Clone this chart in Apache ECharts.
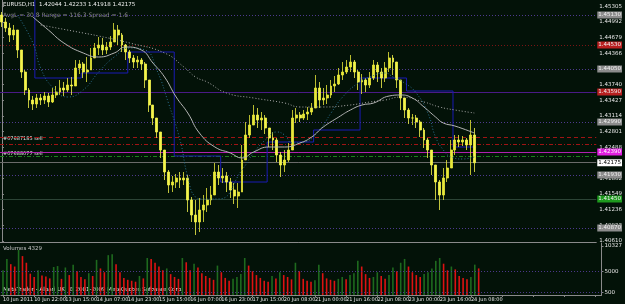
<!DOCTYPE html>
<html>
<head>
<meta charset="utf-8">
<script src="https://cdn.jsdelivr.net/npm/echarts@6/dist/echarts.min.js"></script>
<style>
html, body { margin: 0; padding: 0; background: #031208; }
#chart { width: 625px; height: 304px; }
</style>
</head>
<body>
<div id="chart"></div>
<script>
// EURUSD, 10 Jun - 24 Jun 2011 (2-hour bars)
var barOpen = [1.4513,1.4499,1.4487,1.4473,1.4483,1.4443,1.4399,1.4363,1.4343,1.4335,
  1.4347,1.4343,1.4351,1.4339,1.4353,1.4359,1.4367,1.4363,1.4373,1.4371,
  1.4407,1.4415,1.4399,1.4403,1.4427,1.4447,1.4453,1.4443,1.4449,1.4459,
  1.4483,1.4473,1.4453,1.4439,1.4427,1.4419,1.4423,1.4415,1.4383,1.4333,
  1.4307,1.4279,1.4243,1.4199,1.4173,1.4179,1.4187,1.4183,1.4187,1.4143,
  1.4113,1.4099,1.4123,1.4133,1.4143,1.4153,1.4199,1.4187,1.4191,1.4179,
  1.4163,1.4151,1.4159,1.4223,1.4273,1.4293,1.4313,1.4303,1.4307,1.4287,
  1.4267,1.4263,1.4233,1.4213,1.4223,1.4243,1.4307,1.4313,1.4307,1.4315,
  1.4319,1.4327,1.4367,1.4343,1.4347,1.4353,1.4371,1.4375,1.4393,1.4399,
  1.4409,1.4419,1.4399,1.4379,1.4383,1.4373,1.4387,1.4413,1.4399,1.4387,
  1.4407,1.4427,1.4419,1.4383,1.4347,1.4323,1.4307,1.4307,1.4299,1.4283,
  1.4263,1.4243,1.4213,1.4179,1.4153,1.4187,1.4207,1.4243,1.4263,1.4259,
  1.4263,1.4253,1.4273];
var barClose = [1.4499,1.4487,1.4473,1.4483,1.4443,1.4399,1.4363,1.4343,1.4335,1.4347,
  1.4343,1.4351,1.4339,1.4353,1.4359,1.4367,1.4363,1.4373,1.4371,1.4407,
  1.4415,1.4399,1.4403,1.4427,1.4447,1.4453,1.4443,1.4449,1.4459,1.4483,
  1.4473,1.4453,1.4439,1.4427,1.4419,1.4423,1.4415,1.4383,1.4333,1.4307,
  1.4279,1.4243,1.4199,1.4173,1.4179,1.4187,1.4183,1.4187,1.4143,1.4113,
  1.4099,1.4123,1.4133,1.4143,1.4153,1.4199,1.4187,1.4191,1.4179,1.4163,
  1.4151,1.4159,1.4223,1.4273,1.4293,1.4313,1.4303,1.4307,1.4287,1.4267,
  1.4263,1.4233,1.4213,1.4223,1.4243,1.4307,1.4313,1.4307,1.4315,1.4319,
  1.4327,1.4367,1.4343,1.4347,1.4353,1.4371,1.4375,1.4393,1.4399,1.4409,
  1.4419,1.4399,1.4379,1.4383,1.4373,1.4387,1.4413,1.4399,1.4387,1.4407,
  1.4427,1.4419,1.4383,1.4347,1.4323,1.4307,1.4307,1.4299,1.4283,1.4263,
  1.4243,1.4213,1.4179,1.4153,1.4187,1.4207,1.4243,1.4263,1.4259,1.4263,
  1.4253,1.4273,1.42175];
var barLow = [1.4489,1.4479,1.4459,1.4463,1.4427,1.4387,1.4353,1.4327,1.4323,1.4327,
  1.4333,1.4335,1.4329,1.4337,1.4347,1.4353,1.4351,1.4359,1.4353,1.4371,
  1.4395,1.4387,1.4379,1.4403,1.4427,1.4433,1.4433,1.4435,1.4443,1.4459,
  1.4453,1.4439,1.4423,1.4417,1.4407,1.4407,1.4403,1.4367,1.4319,1.4293,
  1.4267,1.4227,1.4183,1.4157,1.4159,1.4167,1.4167,1.4173,1.4119,1.4099,
  1.4073,1.4079,1.4099,1.4119,1.4133,1.4153,1.4173,1.4177,1.4159,1.4147,
  1.4135,1.4127,1.4159,1.4223,1.4267,1.4293,1.4287,1.4283,1.4275,1.4249,
  1.4243,1.4219,1.4189,1.4199,1.4219,1.4243,1.4297,1.4299,1.4303,1.4303,
  1.4313,1.4327,1.4327,1.4333,1.4335,1.4347,1.4359,1.4373,1.4383,1.4395,
  1.4399,1.4387,1.4363,1.4355,1.4359,1.4367,1.4383,1.4379,1.4367,1.4379,
  1.4399,1.4393,1.4367,1.4323,1.4307,1.4295,1.4293,1.4287,1.4269,1.4247,
  1.4227,1.4193,1.4143,1.4123,1.4143,1.4179,1.4207,1.4233,1.4249,1.4251,
  1.4243,1.4193,1.4199];
var barHigh = [1.4519,1.4507,1.4497,1.4493,1.4467,1.4443,1.4403,1.4367,1.4351,1.4355,
  1.4355,1.4359,1.4357,1.4367,1.4371,1.4383,1.4379,1.4387,1.4389,1.4423,
  1.4423,1.4419,1.4429,1.4447,1.4457,1.4469,1.4467,1.4459,1.4471,1.4497,
  1.4493,1.4477,1.4455,1.4443,1.4433,1.4431,1.4427,1.4419,1.4383,1.4333,
  1.4307,1.4279,1.4243,1.4203,1.4191,1.4195,1.4199,1.4199,1.4193,1.4149,
  1.4143,1.4147,1.4153,1.4167,1.4171,1.4217,1.4213,1.4207,1.4199,1.4187,
  1.4177,1.4177,1.4253,1.4299,1.4313,1.4333,1.4327,1.4319,1.4313,1.4287,
  1.4279,1.4267,1.4239,1.4243,1.4257,1.4323,1.4327,1.4319,1.4323,1.4329,
  1.4337,1.4393,1.4379,1.4367,1.4373,1.4383,1.4391,1.4407,1.4419,1.4423,
  1.4433,1.4423,1.4403,1.4395,1.4387,1.4399,1.4423,1.4419,1.4407,1.4419,
  1.4439,1.4433,1.4419,1.4383,1.4347,1.4327,1.4315,1.4313,1.4303,1.4287,
  1.4267,1.4243,1.4213,1.4183,1.4207,1.4223,1.4263,1.4273,1.4273,1.4271,
  1.4267,1.4303,1.4287];
var volumes = [5200,7600,6500,6000,9500,8200,6800,4500,3800,5200,
  4100,3900,3500,5900,6100,3400,5800,4200,6400,5000,
  3800,3300,4600,4000,7400,5600,4800,8400,8600,6500,
  4800,3600,3200,3000,2800,4000,3500,7800,7600,6800,
  6000,5200,5600,4400,3800,3400,7800,6900,5200,6600,
  5800,4600,4000,3600,3200,6200,4800,3600,3000,3400,
  3800,4400,7800,6200,5000,4200,3600,3000,2800,4000,
  3500,4800,4200,3800,3300,6800,5000,3400,3000,2800,
  3100,6400,4600,3500,3200,3000,3400,3800,3300,4200,
  4600,7200,6000,4400,3600,3800,4800,4000,3400,4200,
  5800,5000,6800,7600,6000,4800,4200,3800,4400,4800,
  5600,7200,7800,6600,5200,6000,5400,4000,3600,3300,
  3800,6400,5600];

var xTickLabels = ['10 Jun 2011', '10 Jun 22:00', '13 Jun 15:00', '14 Jun 07:00', '14 Jun 23:00',
  '15 Jun 15:00', '16 Jun 07:00', '16 Jun 23:00', '17 Jun 15:00', '20 Jun 08:00', '21 Jun 00:00',
  '21 Jun 16:00', '22 Jun 08:00', '23 Jun 00:00', '23 Jun 16:00', '24 Jun 08:00'];
var priceTicks = [1.45305, 1.44992, 1.44679, 1.44366, 1.44053, 1.43740, 1.43427, 1.43114,
  1.42801, 1.42488, 1.42175, 1.41862, 1.41549, 1.41236, 1.40923, 1.40610];
var volumeTicks = [500, 5000, 10327];

// moving averages: [bar, price]
var maFast = [[4,1.4513],[8,1.4457],[10,1.4407],[13,1.4369],[17,1.4349],[21,1.4363],[25,1.4399],
  [29,1.4429],[33,1.4447],[37,1.4443],[40,1.4403],[43,1.4337],[46,1.4263],[48,1.4189],[50,1.4149],
  [52,1.4145],[56,1.4145],[62,1.4203],[65,1.4237],[68,1.4263],[71,1.4279],[73,1.4273],[75,1.4257],
  [78,1.4259],[82,1.4283],[85,1.4317],[88,1.4349],[92,1.4377],[95,1.4389],[99,1.4397],[101,1.4389],
  [104,1.4377],[107,1.4357],[110,1.4317],[112,1.4269],[114,1.4243],[116,1.4229],[119,1.4225],[122,1.4229]];
var maMid = [[8,1.4509],[12,1.4483],[16,1.4457],[21,1.4437],[25,1.4429],[29,1.4437],[32,1.4449],
  [36,1.4443],[39,1.4417],[42,1.4389],[45,1.4349],[48,1.4317],[51,1.4277],[55,1.4249],[59,1.4237],
  [62,1.4227],[65,1.4239],[69,1.4249],[73,1.4249],[77,1.4257],[80,1.4269],[83,1.4289],[87,1.4309],
  [90,1.4323],[93,1.4333],[96,1.4337],[100,1.4351],[103,1.4353],[106,1.4347],[109,1.4329],
  [112,1.4309],[114,1.4297],[117,1.4291],[122,1.4277]];
var maSlow = [[10,1.4493],[21,1.4477],[25,1.4471],[33,1.4457],[42,1.4437],[47,1.4409],[50,1.4389],
  [53,1.4379],[58,1.4357],[65,1.4347],[73,1.4337],[77,1.4329],[83,1.4329],[90,1.4333],[95,1.4339],
  [99,1.4343],[103,1.4349],[109,1.4339],[113,1.4329],[117,1.4323],[122,1.4317]];

// daily range step line
var dayStarts = [-0.5, 8.5, 20.5, 32.5, 44.5, 56.5, 68.5, 80.5, 92.5, 104.5, 116.5, 122.5];
var dayLevels = [1.4570, 1.4387, 1.4397, 1.4439, 1.4231, 1.4179, 1.4259, 1.4283, 1.4387, 1.4361, 1.4249, 1.4249];

// horizontal levels
var pivotLevels = [1.4513, 1.4405, 1.4299, 1.4193, 1.4087];
var resistLevel = 1.4453;
var dayOpenLevel = 1.4359;
var orderLevels = [1.4269, 1.4255];
var magentaLevel = 1.4239;
var stopLevel = 1.4231;
var bidLevel = 1.42175;
var supportLevel = 1.4145;

var barCount = 154;
var cats = [];
for (var i = 0; i < barCount; i++) cats.push(i);

var candles = barOpen.map(function (o, i) {
  return [o, barClose[i], barLow[i], barHigh[i]];
});

var stepLine = dayStarts.map(function (x, i) { return [x, dayLevels[i]]; });

function tag(bg, fg) {
  return {
    show: true, position: 'end', distance: 1,
    formatter: function (p) { return Number(p.value).toFixed(5); },
    backgroundColor: bg, color: fg, fontSize: 5.5, padding: [1, 1, 0, 1]
  };
}

var lines = [];
pivotLevels.forEach(function (v) {
  lines.push({ yAxis: v, lineStyle: { color: '#4e3a8e', type: [1, 2], width: 1 }, label: tag('#8c8c8c', '#f0f0f0') });
});
lines.push({ yAxis: resistLevel, lineStyle: { color: '#7a1414', type: [1, 2], width: 1 }, label: tag('#b82020', '#f0f0f0') });
lines.push({ yAxis: dayOpenLevel, lineStyle: { color: '#4a1a86', type: 'solid', width: 1 }, label: tag('#b82020', '#f0f0f0') });
lines.push({ yAxis: orderLevels[0], lineStyle: { color: '#a01414', type: [4, 3], width: 1 }, label: { show: false } });
lines.push({ yAxis: orderLevels[1], lineStyle: { color: '#a01414', type: [4, 2, 1, 2], width: 1 }, label: { show: false } });
lines.push({ yAxis: magentaLevel, lineStyle: { color: '#b020b0', type: 'solid', width: 1 }, label: tag('#e020e0', '#ffffff') });
lines.push({ yAxis: stopLevel, lineStyle: { color: '#1e7e1e', type: [4, 2, 1, 2], width: 1 }, label: { show: false } });
lines.push({ yAxis: bidLevel, lineStyle: { color: '#6a6a6a', type: 'solid', width: 1 }, label: tag('#ffffff', '#000000') });
lines.push({ yAxis: supportLevel, lineStyle: { color: '#2c4436', type: 'solid', width: 1 }, label: tag('#1e9a1e', '#f0f0f0') });

var font = 'DejaVu Sans';

var myChart = echarts.init(document.getElementById('chart'));
var option = {
  backgroundColor: '#031208',
  animation: false,
  textStyle: { fontFamily: font },
  grid: [
    { left: 0, right: 19, top: 0, height: 242 },
    { left: 0, right: 19, top: 243, height: 52 }
  ],
  xAxis: [
    {
      type: 'category', gridIndex: 0, data: cats, boundaryGap: true,
      axisLine: { show: true, lineStyle: { color: '#8a8a8a' } },
      axisTick: { show: false }, axisLabel: { show: false }, splitLine: { show: false }
    },
    {
      type: 'category', gridIndex: 1, data: cats, boundaryGap: true,
      axisLine: { show: true, lineStyle: { color: '#8a8a8a' } },
      axisTick: { show: true, interval: 7, length: 2, alignWithLabel: true, lineStyle: { color: '#8a8a8a' } },
      axisLabel: {
        interval: 7, color: '#e6e6e6', fontSize: 5, margin: 2, align: 'left',
        showMinLabel: true, hideOverlap: false,
        formatter: function (v, idx) { return xTickLabels[idx / 8] || ''; }
      },
      splitLine: { show: false }
    },
    { type: 'value', gridIndex: 0, min: -0.5, max: barCount - 0.5, show: false }
  ],
  yAxis: [
    {
      type: 'value', gridIndex: 0, position: 'right', min: 1.4059, max: 1.4543,
      axisLine: { show: true, lineStyle: { color: '#8a8a8a' } },
      axisTick: { show: true, length: 2, customValues: priceTicks, lineStyle: { color: '#8a8a8a' } },
      axisLabel: {
        customValues: priceTicks, color: '#e6e6e6', fontSize: 5.5, margin: 3,
        formatter: function (v) { return v.toFixed(5); }
      },
      splitLine: { show: false }
    },
    {
      type: 'value', gridIndex: 1, position: 'right', min: 0, max: 10960,
      axisLine: { show: true, lineStyle: { color: '#8a8a8a' } },
      axisTick: { show: true, length: 2, customValues: volumeTicks, lineStyle: { color: '#8a8a8a' } },
      axisLabel: {
        customValues: volumeTicks, color: '#e6e6e6', fontSize: 5.5, margin: 3,
        formatter: function (v) { return String(v); }
      },
      splitLine: { show: false }
    }
  ],
  series: [
    {
      name: 'EURUSD', type: 'candlestick', xAxisIndex: 0, yAxisIndex: 0,
      data: candles, barWidth: 2.4, z: 3,
      itemStyle: {
        color: '#e8e83a', color0: '#f4f44c',
        borderColor: '#e8e83a', borderColor0: '#f4f44c', borderWidth: 0.8
      },
      markLine: { silent: true, symbol: 'none', precision: 5, z: 1, data: lines }
    },
    {
      name: 'maFast', type: 'line', xAxisIndex: 2, yAxisIndex: 0, data: maFast,
      showSymbol: false, smooth: true, z: 4,
      lineStyle: { color: '#2a7090', width: 1, type: [1, 2] }
    },
    {
      name: 'maMid', type: 'line', xAxisIndex: 2, yAxisIndex: 0, data: maMid,
      showSymbol: false, smooth: true, z: 4,
      lineStyle: { color: '#b4b4b4', width: 1 }
    },
    {
      name: 'maSlow', type: 'line', xAxisIndex: 2, yAxisIndex: 0, data: maSlow,
      showSymbol: false, smooth: true, z: 4,
      lineStyle: { color: '#a8a8a8', width: 1, type: [1, 2] }
    },
    {
      name: 'dayRange', type: 'line', xAxisIndex: 2, yAxisIndex: 0, data: stepLine,
      step: 'end', showSymbol: false, z: 2,
      lineStyle: { color: '#1a1ab4', width: 1 }
    },
    {
      name: 'Volumes', type: 'bar', xAxisIndex: 1, yAxisIndex: 1, data: volumes,
      barWidth: 1.6,
      itemStyle: {
        color: function (p) {
          var i = p.dataIndex;
          return (i === 0 || volumes[i] > volumes[i - 1]) ? '#1e6a1e' : '#dd1212';
        }
      },
      markLine: {
        silent: true, symbol: 'none', label: { show: false },
        lineStyle: { color: '#4e3a8e', type: [1, 2], width: 1 },
        data: [{ yAxis: volumeTicks[0] }, { yAxis: volumeTicks[1] }]
      }
    }
  ],
  graphic: [
    { type: 'text', left: 3, top: 2, style: { text: 'EURUSD,H1  1.42044 1.42233 1.41918 1.42175', fill: '#f0f0f0', font: '5.5px ' + font } },
    { type: 'text', left: 3, top: 12, style: { text: 'AvgL = 30.8 Range = 116.3 Spread = 1.6', fill: '#8a8a8a', font: '6px ' + font } },
    { type: 'text', left: 3, top: 136, style: { text: '#07687185 sell', fill: '#e6e6e6', font: '5px ' + font } },
    { type: 'text', left: 3, top: 151, style: { text: '#07688077 sell', fill: '#e6e6e6', font: '5px ' + font } },
    { type: 'text', left: 3, top: 246, style: { text: 'Volumes 4329', fill: '#c8c8c8', font: '5.5px ' + font } },
    { type: 'text', left: 3, top: 287, style: { text: 'MetaTrader - Alpari UK, \u00a9 2001-2009 MetaQuotes Software Corp.', fill: '#f0f0f0', font: '5.5px ' + font } }
  ]
};
myChart.setOption(option);
window.addEventListener('resize', function () { myChart.resize(); });
</script>
</body>
</html>
